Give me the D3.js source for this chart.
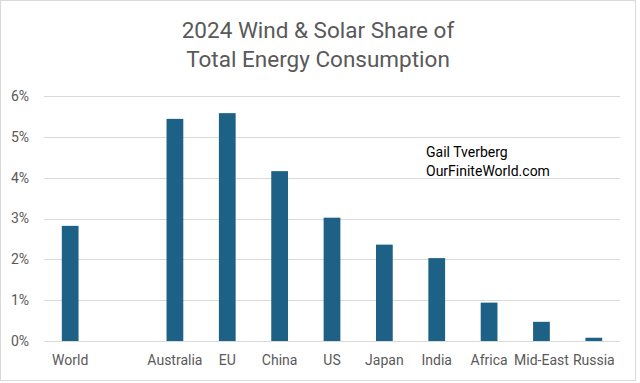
<!DOCTYPE html>
<html><head><meta charset="utf-8">
<script src="https://cdn.jsdelivr.net/npm/d3@7"></script>
<style>body{margin:0;background:#fff}svg{display:block}</style>
</head><body>
<svg id="c" width="640" height="383"></svg>
<script>
const categories = ["World", "", "Australia", "EU", "China", "US", "Japan", "India", "Africa", "Mid-East", "Russia"];
const values = [2.82, null, 5.44, 5.58, 4.16, 3.02, 2.36, 2.03, 0.94, 0.47, 0.08];
const yTicks = [0, 1, 2, 3, 4, 5, 6];
const titleLines = ["2024 Wind & Solar Share of", "Total Energy Consumption"];
const noteLines = ["Gail Tverberg", "OurFiniteWorld.com"];

const svg = d3.select("#c");
const W = 640, H = 383;
const m = {left: 44, right: 20, top: 96, bottom: 42};
const font = "Roboto, 'Liberation Sans', sans-serif";

svg.append("rect").attr("x", 0.5).attr("y", 0.5).attr("width", 635).attr("height", 380)
  .attr("fill", "#fff").attr("stroke", "#d9d9d9");

const x = d3.scaleBand().domain(d3.range(categories.length)).range([m.left, W - m.right]).paddingInner(0.68).paddingOuter(0.34);
const y = d3.scaleLinear().domain([0, 6]).range([H - m.bottom, m.top]);

// gridlines
svg.append("g").selectAll("line").data(yTicks).join("line")
  .attr("x1", m.left).attr("x2", W - m.right)
  .attr("y1", d => Math.round(y(d)) + 0.5).attr("y2", d => Math.round(y(d)) + 0.5)
  .attr("stroke", "#d9d9d9").attr("stroke-width", 1);

// y axis labels
const yAxis = d3.axisLeft(y).tickValues(yTicks).tickFormat(d => d + "%").tickSize(0).tickPadding(15);
const ga = svg.append("g").attr("transform", `translate(${m.left},0)`).call(yAxis);
ga.select(".domain").remove();
ga.selectAll("text").attr("fill", "#595959").style("font-family", font).style("font-size", "14px");

// bars
svg.append("g").selectAll("rect").data(values.map((v, i) => ({v, i})).filter(d => d.v != null)).join("rect")
  .attr("x", d => x(d.i)).attr("width", x.bandwidth())
  .attr("y", d => y(d.v)).attr("height", d => y(0) - y(d.v))
  .attr("fill", "#1d6286");

// x axis labels
const xAxis = d3.axisBottom(x).tickFormat(i => categories[i]).tickSize(0).tickPadding(14);
const gx = svg.append("g").attr("transform", `translate(0,${y(0)})`).call(xAxis);
gx.select(".domain").remove();
gx.selectAll("text").attr("fill", "#595959").style("font-family", font).style("font-size", "14px");

// title
svg.append("g").selectAll("text").data(titleLines).join("text")
  .attr("x", 318).attr("y", (d, i) => 38 + i * 29)
  .attr("text-anchor", "middle").attr("fill", "#595959")
  .style("font-family", font).style("font-size", "22.5px").text(d => d);

// note
svg.append("g").selectAll("text").data(noteLines).join("text")
  .attr("x", 426).attr("y", (d, i) => 157 + i * 19)
  .attr("fill", "#000").style("font-family", font).style("font-size", "14px").text(d => d);
</script>
</body></html>
